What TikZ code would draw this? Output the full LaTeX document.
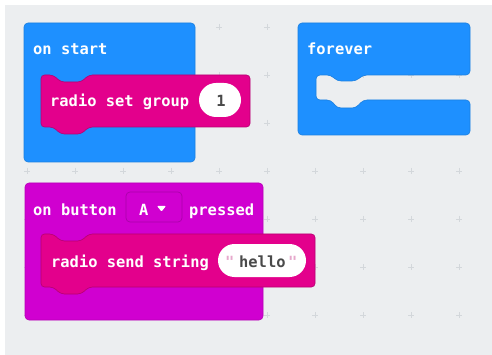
\documentclass[tikz,border=0pt]{standalone}
\usepackage{fontspec}
\newfontfamily\blkfont{DejaVu Sans Mono}
\definecolor{bgc}{HTML}{ECEEF0}
\definecolor{gridc}{HTML}{D3D7DB}
\definecolor{bluec}{HTML}{1E90FF}
\definecolor{pinkc}{HTML}{E3008C}
\definecolor{purpc}{HTML}{D000D0}
\definecolor{ovaltext}{HTML}{4A4A4A}
\definecolor{quotec}{HTML}{E6A8CC}
\begin{document}
\begin{tikzpicture}[x=1pt,y=-1pt,
  lbl/.style={inner sep=0pt, anchor=base west, text=white, font=\blkfont\bfseries\fontsize{15.4}{18}\selectfont},
  ovtxt/.style={lbl, text=ovaltext},
  qtxt/.style={lbl, text=quotec},
  blueblk/.style={fill=bluec, draw=bluec!88!black, line width=0.6pt, rounded corners=4pt},
  pinkblk/.style={fill=pinkc, draw=pinkc!80!black, line width=0.6pt, rounded corners=3.5pt},
  purpblk/.style={fill=purpc, draw=purpc!88!black, line width=0.6pt, rounded corners=4pt},
  oval/.style={fill=white},
  gridmark/.style={draw=gridc, line width=0.8pt}
]
\useasboundingbox (0,0) rectangle (492,355);
\fill[bgc] (5,5) rectangle (492,355);
% grid crosses
\foreach \gx in {27,75,123,171,219,267,315,363,411,459}{
  \foreach \gy in {27,75,123,171,219,267,315}{
    \draw[gridmark] (\gx-3,\gy) -- (\gx+3,\gy) (\gx,\gy-3) -- (\gx,\gy+3);
  }
}
% on start block
\draw[blueblk] (24,23) rectangle (195,162);
\node[lbl] (onstart) at (33,55) {on start};
% radio set group block
\draw[pinkblk] (41,75) -- (53,75) -- (61,82) -- (81,82) -- (89,75) -- (250,75) -- (250,127)
  -- (89,127) -- (81,134) -- (61,134) -- (53,127) -- (41,127) -- cycle;
\node[lbl] (setgroup) at (50,107) {radio set group};
\fill[oval, rounded corners=17pt] (199,83) rectangle (241,117);
\node[ovtxt, anchor=base] (one) at (221,107) {1};
% forever block
\draw[blueblk] (298,23) -- (470,23) -- (470,75) -- (363,75) -- (356,81) -- (337,81) -- (331,75)
  -- (316,75) -- (316,100) -- (331,100) -- (337,108) -- (356,108) -- (363,100) -- (470,100)
  -- (470,135) -- (298,135) -- cycle;
\node[lbl] (forever) at (307,55) {forever};
% on button pressed block
\draw[purpblk] (25,183) rectangle (263,320);
\node[lbl] (onbutton) at (33,215) {on button};
\draw[fill=purpc, draw=purpc!82!black, line width=0.7pt, rounded corners=4pt] (126,192) rectangle (182,222);
\node[lbl] (btnA) at (139,215) {A};
\fill[white, rounded corners=0.8pt] (157,206) -- (166,206) -- (161.5,211.5) -- cycle;
\node[lbl] (pressed) at (189,215) {pressed};
% radio send string block
\draw[pinkblk] (41,234) -- (53,234) -- (61,241) -- (81,241) -- (89,234) -- (315,234) -- (315,287)
  -- (89,287) -- (81,294) -- (61,294) -- (53,287) -- (41,287) -- cycle;
\node[lbl] (sendstr) at (51,267) {radio send string};
\fill[oval, rounded corners=16.5pt] (218,244) rectangle (306,277);
\node[qtxt] (q1) at (225,267) {"};
\node[ovtxt] (hello) at (239,267) {hello};
\node[qtxt] (q2) at (288,267) {"};
\end{tikzpicture}
\end{document}
